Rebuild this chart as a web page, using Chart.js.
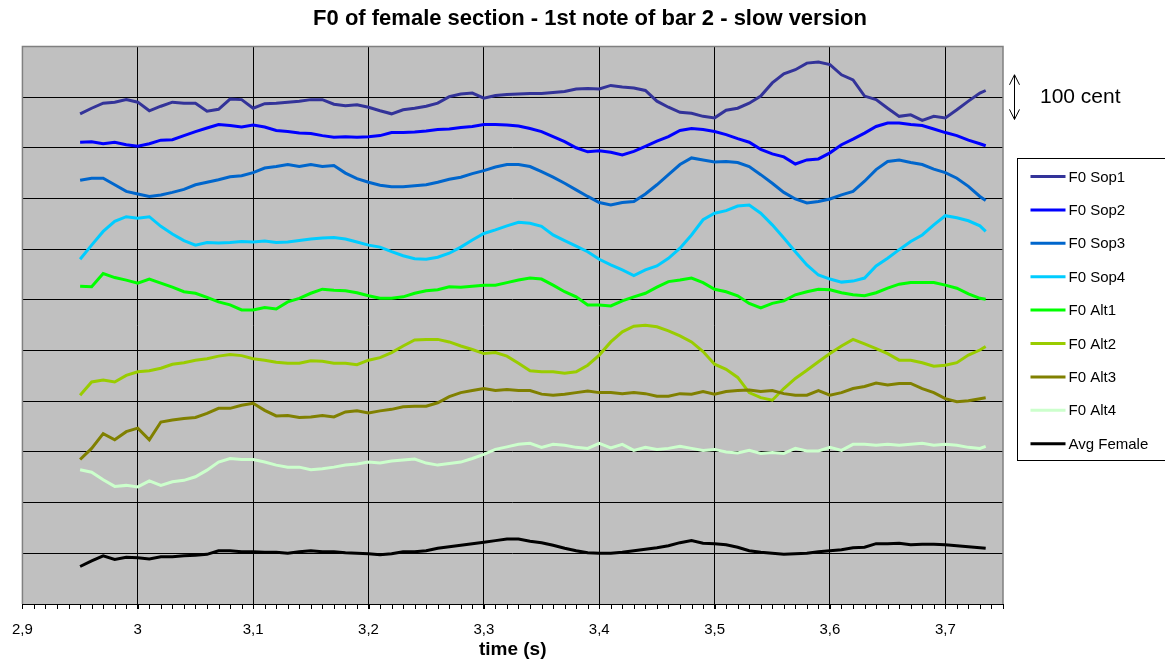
<!DOCTYPE html>
<html>
<head>
<meta charset="utf-8">
<script src="https://cdn.jsdelivr.net/npm/chart.js@4.4.1/dist/chart.umd.min.js"></script>
<style>
  html, body { margin: 0; padding: 0; background: #fff; }
  #wrap { width: 1165px; height: 662px; }
</style>
</head>
<body>
<div id="wrap"><canvas id="f0Chart"></canvas></div>
<script>
const times = [
  2.95, 2.96, 2.97, 2.98, 2.99, 3.00, 3.01, 3.02, 3.03, 3.04, 3.05, 3.06, 3.07, 3.08, 3.09, 3.10,
  3.11, 3.12, 3.13, 3.14, 3.15, 3.16, 3.17, 3.18, 3.19, 3.20, 3.21, 3.22, 3.23, 3.24, 3.25, 3.26,
  3.27, 3.28, 3.29, 3.30, 3.31, 3.32, 3.33, 3.34, 3.35, 3.36, 3.37, 3.38, 3.39, 3.40, 3.41, 3.42,
  3.43, 3.44, 3.45, 3.46, 3.47, 3.48, 3.49, 3.50, 3.51, 3.52, 3.53, 3.54, 3.55, 3.56, 3.57, 3.58,
  3.59, 3.60, 3.61, 3.62, 3.63, 3.64, 3.65, 3.66, 3.67, 3.68, 3.69, 3.70, 3.71, 3.72, 3.73, 3.735
];

// pitch in cents, each series shifted so they stack (grid step = 100 cent)
const sop1 = [
  967, 978, 988, 990, 995, 990, 973, 982, 990, 988, 988, 972, 976, 996, 995, 978,
  987, 988, 990, 992, 995, 995, 986, 983, 985, 980, 973, 967, 975, 978, 982, 988,
  1001, 1006, 1008, 998, 1003, 1005, 1006, 1007, 1007, 1009, 1011, 1016, 1017, 1016, 1023, 1020,
  1018, 1013, 992, 980, 970, 968, 962, 959, 974, 978, 988, 1002, 1028, 1046, 1054, 1067,
  1069, 1064, 1044, 1034, 1002, 995, 978, 962, 965, 954, 962, 959, 975, 992, 1008, 1013
];
const sop2 = [
  911, 912, 908, 911, 906, 903, 908, 915, 916, 924, 932, 939, 946, 944, 941, 945,
  941, 934, 932, 929, 928, 924, 921, 922, 921, 922, 924, 930, 930, 931, 933, 936,
  937, 940, 942, 946, 946, 945, 943, 938, 932, 922, 912, 900, 892, 894, 891, 886,
  893, 903, 913, 922, 934, 938, 936, 932, 926, 918, 911, 897, 888, 882, 868, 876,
  878, 890, 906, 917, 929, 942, 949, 949, 946, 944, 937, 930, 924, 915, 908, 904
];
const sop3 = [
  836, 840, 840, 827, 814, 809, 804, 807, 812, 818, 827, 832, 837, 843, 845, 851,
  860, 863, 867, 863, 867, 863, 865, 850, 839, 832, 826, 823, 823, 825, 827, 832,
  838, 842, 849, 855, 862, 867, 867, 863, 853, 842, 830, 817, 804, 792, 787, 792,
  794, 809, 827, 847, 867, 880, 876, 872, 873, 871, 863, 847, 830, 812, 799, 791,
  794, 799, 807, 814, 834, 857, 873, 876, 871, 867, 858, 851, 840, 824, 804, 796
];
const sop4 = [
  680, 708, 735, 755, 764, 761, 764, 745, 730, 717, 708, 713, 712, 713, 715, 714,
  716, 713, 714, 717, 720, 722, 723, 720, 714, 708, 704, 695, 687, 681, 680, 684,
  692, 704, 718, 731, 738, 746, 753, 751, 745, 728, 717, 706, 695, 680, 669, 659,
  648, 659, 667, 682, 702, 728, 758, 771, 776, 785, 787, 771, 748, 722, 695, 669,
  649, 641, 635, 637, 643, 667, 682, 699, 715, 728, 748, 766, 762, 756, 746, 735
];
const alt1 = [
  627, 626, 652, 644, 639, 633, 641, 633, 625, 616, 613, 605, 596, 590, 580, 580,
  585, 582, 596, 603, 613, 621, 619, 618, 614, 608, 603, 603, 606, 613, 618, 620,
  626, 625, 627, 629, 629, 634, 639, 643, 641, 629, 616, 606, 590, 590, 588, 598,
  606, 613, 625, 636, 639, 643, 634, 621, 616, 608, 593, 584, 593, 598, 610, 616,
  621, 620, 614, 610, 608, 614, 623, 631, 634, 634, 634, 629, 623, 612, 603, 601
];
const alt2 = [
  412, 438, 442, 438, 451, 458, 460, 465, 473, 476, 481, 484, 489, 492, 490, 484,
  481, 477, 475, 475, 480, 479, 475, 475, 472, 481, 486, 496, 509, 521, 522, 522,
  517, 509, 502, 494, 496, 489, 475, 460, 458, 458, 455, 458, 471, 491, 517, 537,
  548, 550, 547, 539, 529, 517, 498, 473, 463, 447, 417, 407, 402, 425, 445, 461,
  478, 494, 509, 522, 513, 504, 494, 481, 481, 476, 469, 471, 476, 491, 501, 508
];
const alt3 = [
  285, 307, 336, 324, 340, 347, 324, 359, 363, 366, 368, 376, 386, 386, 392, 396,
  382, 371, 372, 368, 369, 372, 369, 379, 381, 377, 381, 384, 389, 390, 390, 397,
  409, 417, 421, 425, 421, 423, 421, 421, 414, 412, 414, 417, 420, 417, 417, 415,
  417, 415, 410, 410, 415, 414, 419, 414, 419, 421, 422, 419, 421, 415, 412, 412,
  421, 412, 417, 425, 429, 436, 432, 435, 435, 425, 417, 405, 399, 401, 405, 407
];
const alt4 = [
  265, 260, 245, 232, 234, 231, 243, 234, 241, 244, 251, 264, 280, 287, 285, 285,
  280, 274, 270, 270, 265, 267, 270, 274, 276, 280, 278, 282, 284, 286, 278, 274,
  277, 280, 287, 295, 305, 310, 315, 317, 309, 315, 313, 309, 307, 317, 308, 315,
  303, 309, 305, 307, 311, 307, 303, 305, 300, 298, 303, 297, 299, 297, 307, 302,
  302, 309, 303, 315, 315, 313, 315, 313, 315, 317, 313, 315, 313, 309, 307, 311
];
const avgFemale = [
  74, 85, 95, 88, 92, 91, 89, 93, 93, 95, 96, 98, 105, 105, 103, 103,
  102, 102, 100, 103, 105, 103, 103, 101, 100, 99, 97, 99, 103, 103, 105, 110,
  113, 116, 119, 122, 125, 128, 128, 124, 121, 116, 110, 105, 101, 100, 100, 102,
  105, 108, 111, 115, 121, 125, 120, 119, 117, 112, 105, 102, 100, 98, 99, 100,
  103, 105, 107, 111, 112, 119, 119, 120, 117, 118, 118, 117, 115, 113, 111, 110
];

const seriesNames = ["F0 Sop1", "F0 Sop2", "F0 Sop3", "F0 Sop4", "F0 Alt1", "F0 Alt2", "F0 Alt3", "F0 Alt4", "Avg Female"];
const seriesValues = [sop1, sop2, sop3, sop4, alt1, alt2, alt3, alt4, avgFemale];
const seriesColors = ["#333399", "#0000ff", "#0066cc", "#00ccff", "#00ff00", "#99cc00", "#808000", "#ccffcc", "#000000"];

const xTickValues = [2.9, 3.0, 3.1, 3.2, 3.3, 3.4, 3.5, 3.6, 3.7];
const xTickLabels = ["2,9", "3", "3,1", "3,2", "3,3", "3,4", "3,5", "3,6", "3,7"];

const FONT = "Arial, 'Liberation Sans', sans-serif";

const datasets = seriesNames.map((name, i) => ({
  label: name,
  data: times.map((t, j) => ({ x: t, y: seriesValues[i][j] })),
  borderColor: seriesColors[i],
  backgroundColor: seriesColors[i],
  borderWidth: 3,
  pointRadius: 0,
  tension: 0,
  fill: false,
  order: seriesNames.length - i,
}));

// grey plot area, frame, minor ticks, legend and the 100 cent marker
const excelLook = {
  id: "excelLook",
  beforeDraw(chart) {
    const { ctx, chartArea: a } = chart;
    ctx.save();
    ctx.fillStyle = "#c0c0c0";
    ctx.fillRect(a.left, a.top, a.right - a.left, a.bottom - a.top);
    ctx.restore();
  },
  afterDraw(chart) {
    const { ctx, chartArea: a } = chart;
    const x = chart.scales.x;
    const y = chart.scales.y;
    ctx.save();

    // frame
    ctx.strokeStyle = "#808080";
    ctx.lineWidth = 1.5;
    ctx.beginPath();
    ctx.moveTo(a.left, a.bottom);
    ctx.lineTo(a.left, a.top);
    ctx.lineTo(a.right, a.top);
    ctx.lineTo(a.right, a.bottom);
    ctx.stroke();
    ctx.strokeStyle = "#000";
    ctx.lineWidth = 1;
    ctx.beginPath();
    ctx.moveTo(a.left, a.bottom + 0.5);
    ctx.lineTo(a.right, a.bottom + 0.5);
    ctx.stroke();

    // minor ticks every 0.01 s
    ctx.beginPath();
    for (let k = 0; k <= 85; k++) {
      const px = Math.round(x.getPixelForValue(2.9 + k * 0.01)) + 0.5;
      ctx.moveTo(px, a.bottom);
      ctx.lineTo(px, a.bottom + 5);
    }
    ctx.stroke();

    // 100 cent marker
    const ax = a.right + 11.5;
    const top = y.getPixelForValue(1044);
    const bot = y.getPixelForValue(956);
    ctx.beginPath();
    ctx.moveTo(ax, top);
    ctx.lineTo(ax, bot);
    ctx.moveTo(ax - 5, top + 10);
    ctx.lineTo(ax, top);
    ctx.lineTo(ax + 5, top + 10);
    ctx.moveTo(ax - 5, bot - 10);
    ctx.lineTo(ax, bot);
    ctx.lineTo(ax + 5, bot - 10);
    ctx.stroke();
    ctx.fillStyle = "#000";
    ctx.font = "21px " + FONT;
    ctx.textBaseline = "middle";
    ctx.fillText("100 cent", a.right + 37, (top + bot) / 2);

    // legend
    const lx = a.right + 14.5;
    const ly = 158.5;
    ctx.strokeRect(lx, ly, 200, 302);
    ctx.font = "15px " + FONT;
    chart.data.datasets.forEach((ds, i) => {
      const iy = ly + 18 + i * 33.4;
      ctx.strokeStyle = ds.borderColor;
      ctx.lineWidth = 3;
      ctx.beginPath();
      ctx.moveTo(lx + 13, iy);
      ctx.lineTo(lx + 48, iy);
      ctx.stroke();
      ctx.fillStyle = "#000";
      ctx.fillText(ds.label, lx + 51, iy + 1);
    });
    ctx.restore();
  },
};

const f0Chart = new Chart(document.getElementById("f0Chart"), {
  type: "line",
  data: { datasets: datasets },
  options: {
    responsive: true,
    maintainAspectRatio: false,
    animation: false,
    layout: { padding: { left: 15, right: 0, top: 0, bottom: 0 } },
    plugins: {
      legend: { display: false },
      tooltip: { enabled: false },
      title: {
        display: true,
        text: "F0 of female section - 1st note of bar 2 - slow version",
        color: "#000",
        font: { family: FONT, size: 22, weight: "bold" },
        padding: { top: 6, bottom: 14 },
      },
    },
    scales: {
      x: {
        type: "linear",
        min: 2.9,
        max: 3.75,
        afterBuildTicks(scale) {
          scale.ticks = xTickValues.map(v => ({ value: v }));
        },
        afterFit(scale) { scale.height = 58; },
        ticks: {
          color: "#000",
          font: { family: FONT, size: 15 },
          padding: 12,
          maxRotation: 0,
          autoSkip: false,
          callback: (v, i) => xTickLabels[i],
        },
        grid: { color: "#000", lineWidth: 1, tickLength: 5 },
        border: { display: false },
        title: {
          display: true,
          text: "time (s)",
          color: "#000",
          font: { family: FONT, size: 19, weight: "bold" },
          padding: { top: 0, bottom: 1 },
        },
      },
      y: {
        min: 0,
        max: 1100,
        ticks: { display: false, stepSize: 100 },
        grid: { color: "#000", lineWidth: 1, drawTicks: false },
        border: { display: false },
        afterFit(scale) { scale.width = 7; },
      },
      yRight: {
        position: "right",
        display: true,
        ticks: { display: false },
        grid: { display: false, drawTicks: false },
        border: { display: false },
        afterFit(scale) { scale.width = 162; },
      },
    },
  },
  plugins: [excelLook],
});
</script>
</body>
</html>
